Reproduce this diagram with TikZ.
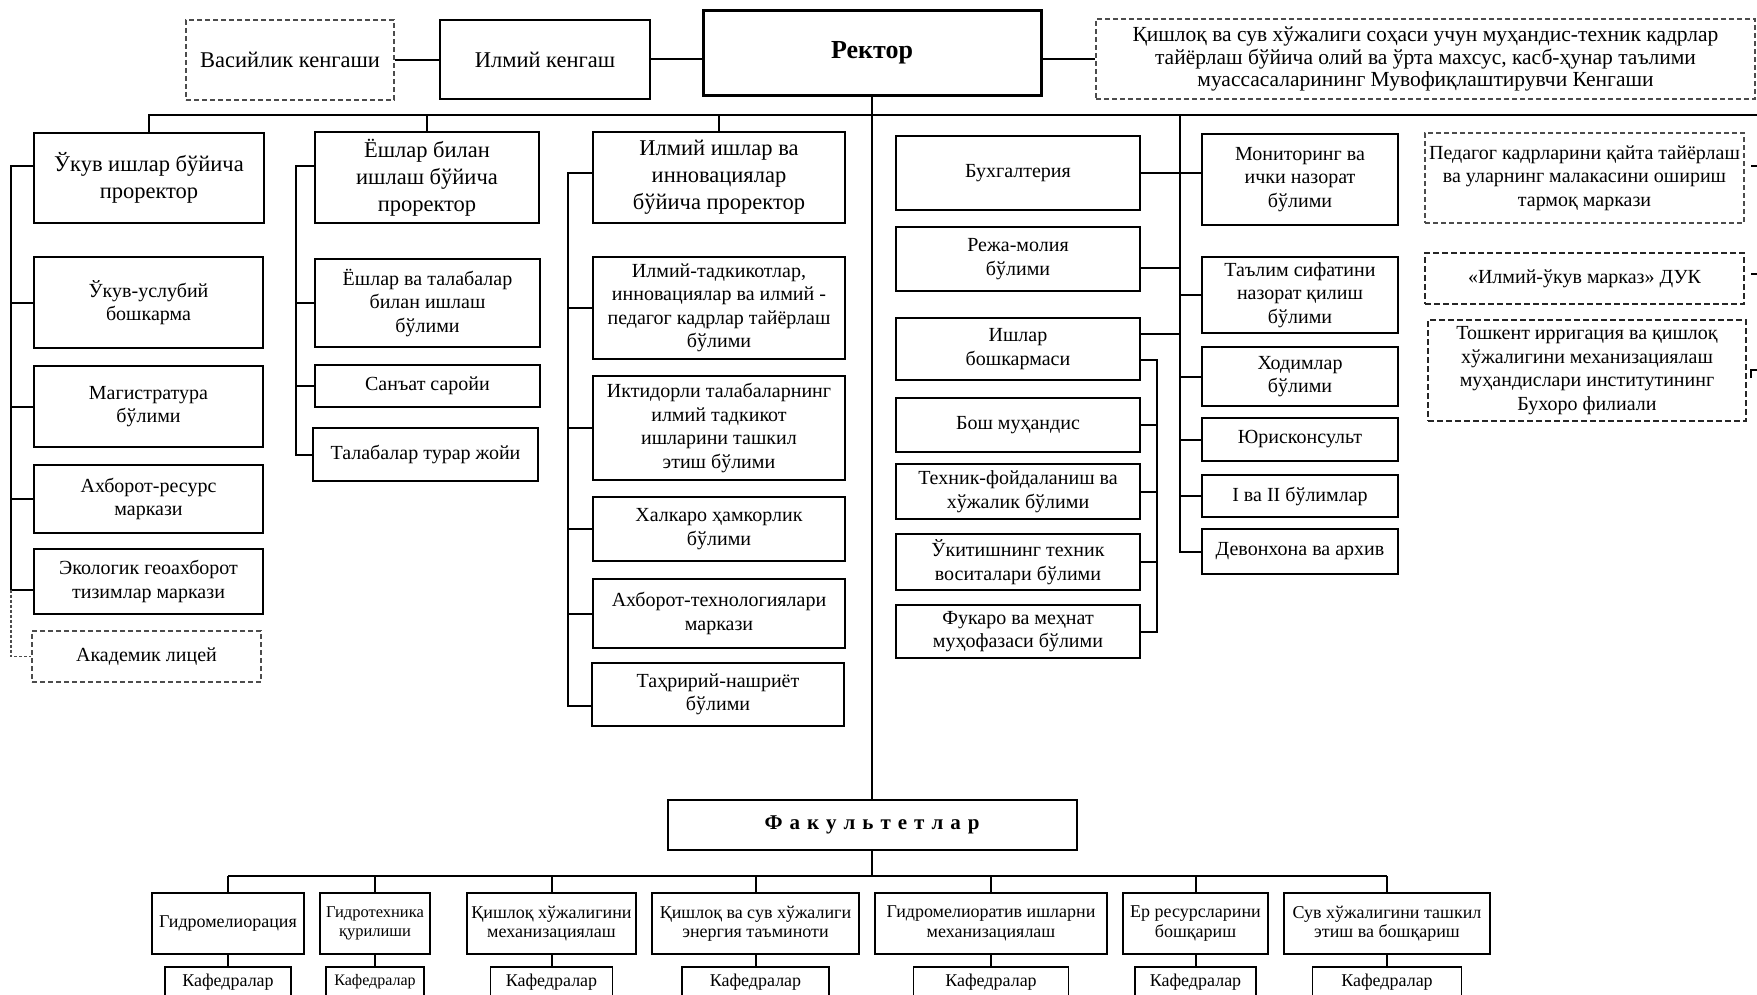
\documentclass[tikz,border=0pt]{standalone}
\usepackage{fontspec}
\setmainfont{Liberation Serif}
\usetikzlibrary{calc}
\newcommand\lsp{\hspace{7pt}}
\tikzset{
  bx/.style={draw, line width=2pt, align=center, inner sep=2pt, font=\fontsize{20}{23.5}\selectfont},
  dbx/.style={bx, line width=1.5pt, draw=black!70, dash pattern=on 5pt off 3pt},
  ddbx/.style={bx, line width=2.2pt, draw=black!85, dash pattern=on 6pt off 3pt},
  pr/.style={bx, font=\fontsize{22.5}{27}\selectfont},
  top/.style={bx, font=\fontsize{22.5}{27}\selectfont},
  fac/.style={bx, line width=1.8pt, font=\fontsize{18}{19.5}\selectfont, inner sep=1pt},
  kaf/.style={fac, minimum height=44, anchor=north},
  ln/.style={line width=2pt},
}
\begin{document}
\begin{tikzpicture}[x=1pt, y=-1pt]
\useasboundingbox (0,0) rectangle (1757,995);
\clip (0,0) rectangle (1757,995);

% top row
\node[top, dbx, font=\fontsize{22.5}{27}\selectfont, minimum width=208, minimum height=80] (vas) at (290,60) {Васийлик кенгаши};
\node[top, minimum width=210, minimum height=79] (ilk) at (545,59.5) {Илмий кенгаш};
\node[bx, line width=3pt, minimum width=338, minimum height=85, font=\fontsize{26}{30}\selectfont\bfseries] (rek) at (872,53.5) {\raisebox{8pt}{Ректор}};
\node[dbx, font=\fontsize{21.5}{22.5}\selectfont, minimum width=659, minimum height=80] (cou) at (1425.5,59) {Қишлоқ ва сув хўжалиги соҳаси учун муҳандис-техник кадрлар\\тайёрлаш бўйича олий ва ўрта махсус, касб-ҳунар таълими\\муассасаларининг Мувофиқлаштирувчи Кенгаши};

% column 1
\node[pr, minimum width=230, minimum height=90] (uk) at (149,178) {Ўкув ишлар бўйича\\проректор};
\node[bx, minimum width=229, minimum height=91] (uk1) at (148.5,302.5) {Ўкув-услубий\\бошкарма};
\node[bx, minimum width=229, minimum height=81] (uk2) at (148.5,406.5) {Магистратура\\бўлими};
\node[bx, minimum width=229, minimum height=68] (uk3) at (148.5,499) {Ахборот-ресурс\\маркази};
\node[bx, minimum width=229, minimum height=65] (uk4) at (148.5,581.5) {Экологик геоахборот\\тизимлар маркази};
\node[dbx, minimum width=229, minimum height=51] (lic) at (146.5,656.5) {Академик лицей};

% column 2
\node[pr, minimum width=224, minimum height=91] (yo) at (427,177.5) {Ёшлар билан\\ишлаш бўйича\\проректор};
\node[bx, minimum width=225, minimum height=88] (yo1) at (427.5,303) {Ёшлар ва талабалар\\билан ишлаш\\бўлими};
\node[bx, minimum width=225, minimum height=42] (yo2) at (427.5,386) {Санъат саройи};
\node[bx, minimum width=225, minimum height=53] (yo3) at (425.5,454.5) {Талабалар турар жойи};

% column 3
\node[pr, minimum width=252, minimum height=91] (il) at (719,177.5) {Илмий ишлар ва\\инновациялар\\бўйича проректор};
\node[bx, minimum width=252, minimum height=102] (il1) at (719,308) {Илмий-тадкикотлар,\\инновациялар ва илмий -\\педагог кадрлар тайёрлаш\\бўлими};
\node[bx, minimum width=252, minimum height=104] (il2) at (719,428) {Иктидорли талабаларнинг\\илмий тадкикот\\ишларини ташкил\\этиш бўлими};
\node[bx, minimum width=252, minimum height=64] (il3) at (719,529) {Халкаро ҳамкорлик\\бўлими};
\node[bx, minimum width=252, minimum height=69] (il4) at (719,613.5) {Ахборот-технологиялари\\маркази};
\node[bx, minimum width=252, minimum height=63] (il5) at (718,694.5) {Таҳририй-нашриёт\\бўлими};

% column 4
\node[bx, minimum width=244, minimum height=74] (buh) at (1018,173) {Бухгалтерия};
\node[bx, minimum width=244, minimum height=64] (rej) at (1018,259) {Режа-молия\\бўлими};
\node[bx, minimum width=244, minimum height=62] (ish) at (1018,349) {Ишлар\\бошкармаси};
\node[bx, minimum width=244, minimum height=54] (bos) at (1018,425) {Бош муҳандис};
\node[bx, minimum width=244, minimum height=55] (tex) at (1018,491.5) {Техник-фойдаланиш ва\\хўжалик бўлими};
\node[bx, minimum width=244, minimum height=56] (ukt) at (1018,562) {Ўкитишнинг техник\\воситалари бўлими};
\node[bx, minimum width=244, minimum height=53] (fuq) at (1018,631.5) {Фукаро ва меҳнат\\муҳофазаси бўлими};

% column 5
\node[bx, minimum width=196, minimum height=91] (mon) at (1300,179.5) {Мониторинг ва\\ички назорат\\бўлими};
\node[bx, minimum width=196, minimum height=76] (tal) at (1300,295) {Таълим сифатини\\назорат қилиш\\бўлими};
\node[bx, minimum width=196, minimum height=59] (xod) at (1300,376.5) {Ходимлар\\бўлими};
\node[bx, minimum width=196, minimum height=43] (yur) at (1300,439.5) {Юрисконсульт};
\node[bx, minimum width=196, minimum height=42] (iva) at (1300,496) {I ва II бўлимлар};
\node[bx, minimum width=196, minimum height=45] (dev) at (1300,551.5) {Девонхона ва архив};

% right dashed column
\node[dbx, minimum width=319, minimum height=90] (ped) at (1584.5,178) {Педагог кадрларини қайта тайёрлаш\\ва уларнинг малакасини ошириш\\тармоқ маркази};
\node[ddbx, minimum width=319, minimum height=51] (duk) at (1584.5,278.5) {«Илмий-ўкув марказ» ДУК};
\node[ddbx, minimum width=318, minimum height=101] (tos) at (1587,370.5) {Тошкент ирригация ва қишлоқ\\хўжалигини механизациялаш\\муҳандислари институтининг\\Бухоро филиали};

% faculties
\node[bx, minimum width=409, minimum height=50, font=\fontsize{21}{24}\selectfont\bfseries] (fak) at (872,825)
  {Ф\lsp а\lsp к\lsp у\lsp л\lsp ь\lsp т\lsp е\lsp т\lsp л\lsp а\lsp р};
\node[fac, minimum width=152, minimum height=61] (f1) at (228,923.5) {Гидромелиорация};
\node[fac, minimum width=110, minimum height=61, font=\fontsize{16.5}{19.5}\selectfont] (f2) at (375,923.5) {Гидротехника\\қурилиши};
\node[fac, minimum width=169, minimum height=61] (f3) at (551.5,923.5) {Қишлоқ хўжалигини\\механизациялаш};
\node[fac, minimum width=207, minimum height=61] (f4) at (755.5,923.5) {Қишлоқ ва сув хўжалиги\\энергия таъминоти};
\node[fac, minimum width=232, minimum height=61] (f5) at (991,923.5) {Гидромелиоратив ишларни\\механизациялаш};
\node[fac, minimum width=145, minimum height=61] (f6) at (1195.5,923.5) {Ер ресурсларини\\бошқариш};
\node[fac, minimum width=206, minimum height=61] (f7) at (1387,923.5) {Сув хўжалигини ташкил\\этиш ва бошқариш};

\node[kaf, minimum width=126] (k1) at (228,966) {Кафедралар\\[-2pt]};
\node[kaf, minimum width=98, font=\fontsize{16}{19.5}\selectfont] (k2) at (375,966) {Кафедралар\\[-2pt]};
\node[kaf, minimum width=122] (k3) at (551.5,966) {Кафедралар\\[-2pt]};
\node[kaf, minimum width=147] (k4) at (755.5,966) {Кафедралар\\[-2pt]};
\node[kaf, minimum width=155] (k5) at (991,966) {Кафедралар\\[-2pt]};
\node[kaf, minimum width=121] (k6) at (1195.5,966) {Кафедралар\\[-2pt]};
\node[kaf, minimum width=149] (k7) at (1387,966) {Кафедралар\\[-2pt]};

% ---------- connectors ----------
\coordinate (mR) at (1757,115);
\draw[ln] (vas.east) -- (vas.east -| ilk.west);
\draw[ln] (ilk.east) -- (ilk.east -| rek.west);
\draw[ln] (cou.west -| rek.east) -- (cou.west);
\draw[line width=2.6pt] (uk.north) |- (mR);
\draw[ln] (yo.north) -- (yo.north |- mR);
\draw[ln] (il.north) -- (il.north |- mR);
\draw[ln] (rek.south) -- (fak.north);

% column 1 bus
\coordinate (b1) at (11,0);
\coordinate (uks) at ($(uk.west)+(0,-12)$);
\coordinate (uk4s) at ($(uk4.west)+(0,8)$);
\draw[ln] (uks) -- (uks -| b1) -- (uk4s -| b1) -- (uk4s);
\foreach \n in {uk1,uk2,uk3} \draw[ln] (\n.west -| b1) -- (\n.west);
\draw[line width=1.4pt, draw=black!70, dash pattern=on 3pt off 2pt] (uk4s -| b1) -- (lic.west -| b1) -- (lic.west);

% column 2 bus
\coordinate (b2) at (296,0);
\coordinate (yos) at ($(yo.west)+(0,-11)$);
\draw[ln] (yos) -- (yos -| b2) -- (yo3.west -| b2) -- (yo3.west);
\foreach \n in {yo1,yo2} \draw[ln] (\n.west -| b2) -- (\n.west);

% column 3 bus
\coordinate (b3) at (568,0);
\coordinate (ils) at ($(il.west)+(0,-4)$);
\coordinate (il5s) at ($(il5.west)+(0,11)$);
\draw[ln] (ils) -- (ils -| b3) -- (il5s -| b3) -- (il5s);
\foreach \n in {il1,il2,il3,il4} \draw[ln] (\n.west -| b3) -- (\n.west);

% columns 4 and 5
\coordinate (b4) at (1180,115);
\draw[ln] (b4) -- (dev.west -| b4) -- (dev.west);
\draw[ln] (buh.east) -- (buh.east -| mon.west);
\coordinate (rejs) at ($(rej.east)+(0,9)$);
\draw[ln] (rejs) -- (rejs -| b4);
\coordinate (ish1) at ($(ish.east)+(0,-15)$);
\draw[ln] (ish1) -- (ish1 -| b4);
\foreach \n in {tal,xod,yur,iva} \draw[ln] (\n.west -| b4) -- (\n.west);
\coordinate (b5) at (1157,0);
\coordinate (ish2) at ($(ish.east)+(0,11)$);
\draw[ln] (ish2) -- (ish2 -| b5) -- (fuq.east -| b5) -- (fuq.east);
\foreach \n in {bos,tex,ukt} \draw[ln] (\n.east) -- (\n.east -| b5);

% small dashed ticks on the right
\coordinate (t1) at (1751,166);
\coordinate (t2) at (1751,274);
\coordinate (t3) at (1751,370);
\draw[line width=1.4pt] (t1) -- ++(6,0);
\draw[line width=1.8pt] (t2) -- ++(6,0);
\draw[line width=1.8pt] (t3) ++(0,8) -- ++(0,-8) -- ++(6,0);

% faculties
\coordinate (fb) at (0,876);
\draw[ln] (fak.south) -- (fak.south |- fb);
\draw[ln] (f1.north |- fb) -- (f7.north |- fb);
\foreach \i in {1,...,7} {
  \draw[ln] (f\i.north |- fb) -- (f\i.north);
  \draw[ln] (f\i.south) -- (k\i.north);
}
\end{tikzpicture}
\end{document}
